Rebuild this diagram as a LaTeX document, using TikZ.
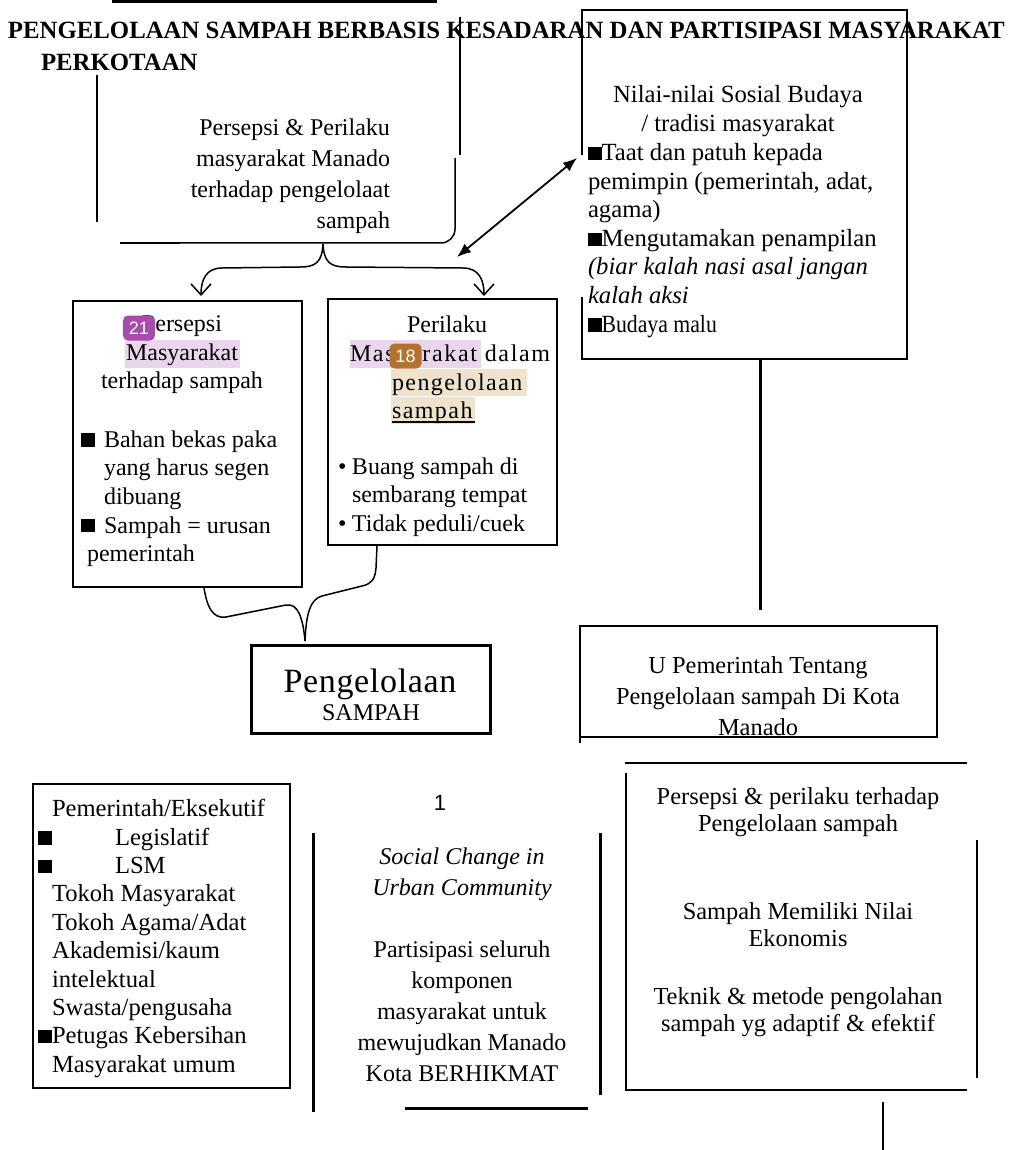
\documentclass[tikz,border=0pt]{standalone}
\usepackage{fontspec}
\setmainfont{Liberation Serif}
\newfontfamily\sansf{Liberation Sans}
\usetikzlibrary{arrows.meta}
\definecolor{hlpurple}{HTML}{E9D6EC}
\definecolor{hltan}{HTML}{EFE3CE}
\definecolor{badgeA}{HTML}{A84BAE}
\definecolor{badgeB}{HTML}{B5722F}
\newcommand\sqb{\rule[0.3pt]{6.8pt}{6.6pt}}
\begin{document}
\begin{tikzpicture}[x=0.5pt,y=-0.5pt,
  every node/.style={inner sep=0pt, outer sep=0pt},
  txt/.style={font=\fontsize{12}{15.5}\selectfont},
  txtb/.style={font=\fontsize{12}{14.3}\selectfont},
  txtn/.style={font=\fontsize{12.35}{14.3}\selectfont},
  ttl/.style={font=\bfseries\fontsize{12.4}{14}\selectfont},
  thinln/.style={line width=0.75pt},
  medln/.style={line width=0.9pt},
  thickln/.style={line width=1.5pt},
  boxn/.style={draw, line width=0.9pt},
  badge/.style={fill=#1, rounded corners=2.5pt, text=white, font=\sansf\fontsize{9}{9}\selectfont, minimum width=16pt, minimum height=12.5pt},
  barb/.style={-{Straight Barb[length=5.5pt,width=10pt]}},
]
\fill[white] (0,0) rectangle (1009,1150);
\useasboundingbox (0,0) rectangle (1009,1150);

% ---------- title ----------
\coordinate (tl1) at (112,1.5);
\coordinate (tl2) at (437,1.5);
\draw[thickln] (tl1) -- (tl2);
\node[ttl, anchor=base west] (title) at (8,39) {PENGELOLAAN SAMPAH BERBASIS KESADARAN DAN PARTISIPASI MASYARAKAT};
\node[ttl, anchor=base west] (title2) at (41,71) {PERKOTAAN};

\coordinate (va1) at (97,75);  \coordinate (va2) at (97,222);
\draw[medln] (va1) -- (va2);
\coordinate (vb1) at (460,17); \coordinate (vb2) at (460,155);
\draw[medln] (vb1) -- (vb2);

% ---------- top text ----------
\node[txt, align=right, anchor=north east] (ppm) at (390,119)
  {Persepsi \& Perilaku\\masyarakat Manado\\terhadap pengelolaat\\sampah};

\coordinate (c1) at (455,158);
\coordinate (c2) at (455,243);
\coordinate (c3) at (120,243);
\draw[thinln, rounded corners=7pt] (c1) -- (c2) -- (c3);
\coordinate (c4) at (180,243);
\draw[medln] (c3) -- (c4);

% brace with two arrows
\coordinate (btip) at (323,244);
\coordinate (bl) at (201,296);
\coordinate (br) at (484,296);
\draw[thinln, barb] (btip) .. controls (322,262) and (316,267) .. (300,267)
   -- (222,268) .. controls (206,268) and (201,280) .. (bl);
\draw[thinln, barb] (btip) .. controls (324,262) and (330,267) .. (346,267)
   -- (463,268) .. controls (479,268) and (484,280) .. (br);

% double arrow
\coordinate (da1) at (457,257);
\coordinate (da2) at (577,158);
\draw[medln, {Latex[length=7pt,width=5.5pt]}-{Latex[length=7pt,width=5.5pt]}] (da1) -- (da2);

% ---------- Nilai box ----------
\coordinate (n1) at (582,10);
\coordinate (n2) at (907,10);
\coordinate (n3) at (907,359);
\coordinate (n4) at (582,359);
\coordinate (n5) at (582,297);
\coordinate (n6) at (582,155);
\draw[boxn] (n5) -- (n4) -- (n3) -- (n2) -- (n1) -- (n6);
\node[txtn, align=center, anchor=north] (nhead) at (738,85.4)
  {Nilai-nilai Sosial Budaya\\/ tradisi masyarakat};
\node[txtn, align=left, anchor=north west] (nbody) at (588,143.4)
  {\sqb Taat dan patuh kepada\\
   pemimpin (pemerintah, adat,\\
   agama)\\
   \sqb Mengutamakan penampilan\\
   \textit{(biar kalah nasi asal jangan}\\
   \textit{kalah aksi}\\
   \sqb\scalebox{0.88}[1]{Budaya malu}};

\coordinate (vn1) at (760,359);
\coordinate (vn2) at (760,610);
\draw[thickln] (vn1) -- (vn2);

% ---------- Persepsi box ----------
\node[boxn, minimum width=114.5pt, minimum height=143pt] (bpers) at (187.5,444) {};
\fill[hlpurple] (125,340) rectangle (240,368);
\node[txtb, align=center, anchor=north] (bpersh) at (182,315.6)
  {Persepsi\\Masyarakat\\terhadap sampah};
\node[txtb, align=left, anchor=north west] (bpersb) at (81,430.6)
  {\makebox[11.5pt][l]{\sqb}Bahan bekas paka\\
   \hspace*{11.5pt}yang harus segen\\
   \hspace*{11.5pt}dibuang\\
   \makebox[11.5pt][l]{\sqb}Sampah = urusan\\
   \hspace*{3pt}pemerintah};
\node[badge=badgeA] (b21) at (139,328) {21};

% ---------- Perilaku box ----------
\node[boxn, minimum width=114.5pt, minimum height=123pt] (bperi) at (442.5,422) {};
\fill[hlpurple] (350,340) rectangle (481,368);
\fill[hltan] (391,369) rectangle (527,396);
\fill[hltan] (391,397) rectangle (475,424);
\node[txt, anchor=base] (peri1) at (447,332) {Perilaku};
\node[txt, anchor=base west] (peri2) at (350,361) {\addfontfeature{LetterSpace=7}Masyarakat dalam};
\node[txt, anchor=base west] (peri3) at (392,390) {\addfontfeature{LetterSpace=6}pengelolaan};
\node[txt, anchor=base west] (peri4) at (392,418) {\addfontfeature{LetterSpace=6}sampah};
\coordinate (ul1) at (392,422); \coordinate (ul2) at (475,422);
\draw[line width=0.6pt] (ul1) -- (ul2);
\node[txtb, align=left, anchor=north west] (perib) at (338,457.6)
  {\makebox[7pt][l]{\textbullet}Buang sampah di\\
   \hspace*{7pt}sembarang tempat\\
   \makebox[7pt][l]{\textbullet}Tidak peduli/cuek};
\node[badge=badgeB] (b18) at (405.5,356) {18};

% bottom brace into Pengelolaan
\coordinate (lb) at (204,588);
\coordinate (rb) at (377,546);
\coordinate (ptip) at (305,641);
\draw[thinln] (lb) .. controls (207,606) and (212,619) .. (226,617)
   -- (286,605) .. controls (298,603) and (303,618) .. (ptip);
\draw[thinln] (rb) -- (376,568) .. controls (375,580) and (371,584) .. (362,586)
   -- (322,596) .. controls (310,599) and (306,615) .. (ptip);

% ---------- Pengelolaan box ----------
\node[draw, line width=1.5pt, minimum width=119.5pt, minimum height=44pt] (bpeng) at (370.5,689) {};
\node[font=\fontsize{17}{17}\selectfont, anchor=base] (peng1) at (370,692) {\addfontfeature{LetterSpace=2}Pengelolaan};
\node[txt, anchor=base] (peng2) at (371,720) {SAMPAH};

% ---------- U Pemerintah box ----------
\node[boxn, minimum width=178.5pt, minimum height=55.5pt] (bupem) at (758.5,681.5) {};
\coordinate (ul3) at (580,737); \coordinate (ul4) at (580,743);
\draw[boxn] (ul3) -- (ul4);
\node[font=\fontsize{12.2}{15.5}\selectfont, align=center, anchor=north] (upem) at (758,656.6)
  {U Pemerintah Tentang\\Pengelolaan sampah Di Kota\\Manado};

% ---------- lower right open box ----------
\coordinate (r1) at (625,763); \coordinate (r2) at (967,763);
\draw[medln] (r1) -- (r2);
\coordinate (r3) at (626,773); \coordinate (r4) at (626,1090); \coordinate (r5) at (967,1090);
\draw[medln] (r3) -- (r4) -- (r5);
\coordinate (r6) at (977,840); \coordinate (r7) at (977,1078);
\draw[line width=1.2pt] (r6) -- (r7);
\coordinate (r8) at (883,1102); \coordinate (r9) at (883,1150);
\draw[line width=1.2pt] (r8) -- (r9);
\node[font=\fontsize{12.2}{13.5}\selectfont, align=center, anchor=north] (rt1) at (798,787.6)
  {Persepsi \& perilaku terhadap\\Pengelolaan sampah};
\node[font=\fontsize{12.2}{13.5}\selectfont, align=center, anchor=north] (rt2) at (798,902.6)
  {Sampah Memiliki Nilai\\Ekonomis};
\node[font=\fontsize{12.2}{13.5}\selectfont, align=center, anchor=north] (rt3) at (798,987.6)
  {Teknik \& metode pengolahan\\sampah yg adaptif \& efektif};

% ---------- bottom left box ----------
\node[boxn, minimum width=128.5pt, minimum height=152pt] (bstake) at (161.5,936) {};
\node[font=\fontsize{12.3}{14.2}\selectfont, align=left, anchor=north west] (stake) at (38,799.4)
  {\hspace*{7pt}Pemerintah/Eksekutif\\
   \makebox[38.5pt][l]{\sqb}Legislatif\\
   \makebox[38.5pt][l]{\sqb}LSM\\
   \hspace*{7pt}Tokoh Masyarakat\\
   \hspace*{7pt}Tokoh Agama/Adat\\
   \hspace*{7pt}Akademisi/kaum\\
   \hspace*{7pt}intelektual\\
   \hspace*{7pt}Swasta/pengusaha\\
   \makebox[7pt][l]{\sqb}Petugas Kebersihan\\
   \hspace*{7pt}Masyarakat umum};

% ---------- middle bottom ----------
\node[font=\sansf\fontsize{11}{11}\selectfont] (one) at (440,803) {1};
\coordinate (m1) at (313,833); \coordinate (m2) at (313,1112);
\draw[thickln] (m1) -- (m2);
\coordinate (m3) at (600,833); \coordinate (m4) at (600,1095);
\draw[thickln] (m3) -- (m4);
\coordinate (m5) at (405,1108); \coordinate (m6) at (588,1108);
\draw[thickln] (m5) -- (m6);
\node[txt, align=center, anchor=north] (mid) at (462,847.6)
  {\textit{Social Change in}\\\textit{Urban Community}\\[15.5pt]
   Partisipasi seluruh\\komponen\\masyarakat untuk\\mewujudkan Manado\\Kota BERHIKMAT};
\end{tikzpicture}
\end{document}
